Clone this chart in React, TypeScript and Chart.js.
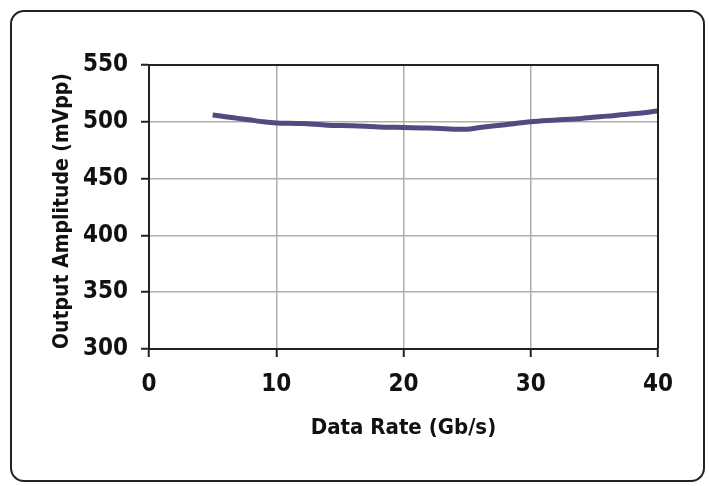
import React, { useEffect, useRef } from "react";
import { Chart, registerables } from "chart.js";

Chart.register(...registerables);

const dataRate = [5, 6, 7, 8, 9, 10, 12, 14, 16, 18, 20, 22, 24, 25, 26, 28, 30, 32, 34, 36, 38, 40];
const amplitude = [506, 504.5, 503, 501.5, 500, 499, 498.5, 497, 496.5, 495.5, 495, 494.5, 493.5, 493.5, 495, 497.5, 500, 501.5, 503, 505, 507, 509.5];
const xTitle = "Data Rate (Gb/s)";
const yTitle = "Output Amplitude (mVpp)";

const FONT = "'Liberation Sans Narrow', 'Arial Narrow', 'DejaVu Sans Condensed', sans-serif";

const frame = {
  id: "frame",
  afterDatasetsDraw(chart: any) {
    const { ctx, chartArea } = chart;
    ctx.save();
    ctx.strokeStyle = "#222";
    ctx.lineWidth = 2;
    ctx.beginPath();
    ctx.moveTo(chartArea.left, chartArea.top);
    ctx.lineTo(chartArea.right, chartArea.top);
    ctx.lineTo(chartArea.right, chartArea.bottom);
    ctx.stroke();
    ctx.restore();
  },
};

export default function App() {
  const ref = useRef<HTMLCanvasElement>(null);
  useEffect(() => {
    const chart = new Chart(ref.current!, {
      type: "line",
      data: {
        datasets: [
          {
            data: dataRate.map((x, i) => ({ x, y: amplitude[i] })),
            borderColor: "#524b82",
            borderWidth: 5,
            pointRadius: 0,
            tension: 0.3,
            borderCapStyle: "butt",
          },
        ],
      },
      plugins: [frame],
      options: {
        animation: false,
        responsive: false,
        layout: { padding: { left: 0, top: 65, right: 51, bottom: 0 } },
        plugins: { legend: { display: false }, tooltip: { enabled: false } },
        scales: {
          x: {
            type: "linear",
            min: 0,
            max: 40,
            afterFit: (s: any) => { s.height = 486 - 349; },
            ticks: { stepSize: 10, color: "#111", padding: 13, font: { family: FONT, size: 24, weight: "bold" } },
            grid: { color: "#b3adaa", lineWidth: 1.5, tickColor: "#222", tickLength: 8, tickWidth: 2 },
            border: { color: "#222", width: 2 },
            title: { display: true, text: xTitle, color: "#111", padding: { top: 0, bottom: 45 }, font: { family: FONT, size: 22, weight: "bold" } },
          },
          y: {
            min: 300,
            max: 550,
            afterFit: (s: any) => { s.width = 149; },
            ticks: { stepSize: 50, color: "#111", padding: 13, font: { family: FONT, size: 24, weight: "bold" } },
            grid: { color: "#b3adaa", lineWidth: 1.5, tickColor: "#222", tickLength: 8, tickWidth: 2 },
            border: { color: "#222", width: 2 },
            title: { display: true, text: yTitle, align: "start", color: "#111", padding: { top: 50, bottom: 0 }, font: { family: FONT, size: 21, weight: "bold" } },
          },
        },
      },
    } as any);
    return () => chart.destroy();
  }, []);
  return (
    <>
      <div
        style={{
          position: "fixed",
          left: 10,
          top: 10,
          width: 695,
          height: 472,
          boxSizing: "border-box",
          border: "2.5px solid #222",
          borderRadius: 14,
        }}
      />
      <canvas ref={ref} width={709} height={486} style={{ position: "fixed", left: 0, top: 0 }} />
    </>
  );
}
